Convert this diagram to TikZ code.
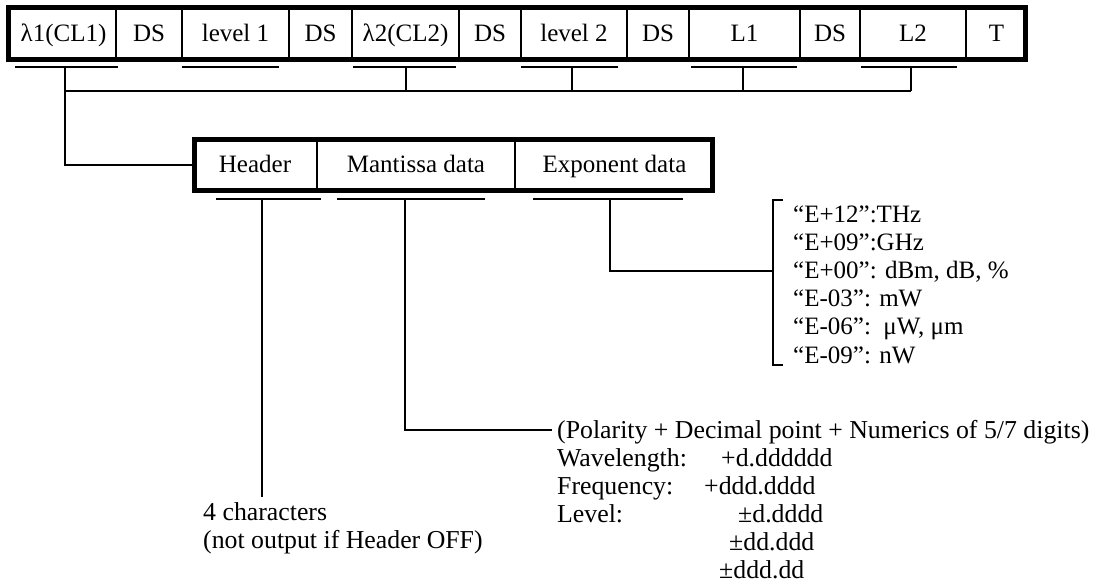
\documentclass[tikz,border=0pt]{standalone}
\usepackage{fontspec}
\setmainfont{Liberation Serif}
\begin{document}
\begin{tikzpicture}[x=1pt,y=-1pt,
  font=\fontsize{25}{28}\selectfont,
  cell/.style={draw, line width=1.1pt, minimum height=55pt, inner sep=0pt, text height=16pt, text depth=0pt},
  hcell/.style={draw, line width=1.1pt, minimum height=54pt, inner sep=0pt, text height=16pt, text depth=0pt},
  frame/.style={line width=5pt},
  ln/.style={line width=1.3pt},
  ul/.style={line width=1.6pt},
  txt/.style={anchor=west, inner sep=0pt, text height=16pt, text depth=0pt},
  note/.style={txt, font=\fontsize{25.8}{28}\selectfont}]
\useasboundingbox (0,0) rectangle (1098,585);
% top record
\node[cell, minimum width=109pt] (c1)  at (61.5,33.5) {\hspace{4pt}λ1(CL1)};
\node[cell, minimum width=66pt]  (c2)  at (149,33.5) {DS};
\node[cell, minimum width=107pt] (c3)  at (235.5,33.5) {level 1};
\node[cell, minimum width=63pt]  (c4)  at (320.5,33.5) {DS};
\node[cell, minimum width=107pt] (c5)  at (405.5,33.5) {λ2(CL2)};
\node[cell, minimum width=62pt]  (c6)  at (490,33.5) {DS};
\node[cell, minimum width=106pt] (c7)  at (574,33.5) {level 2};
\node[cell, minimum width=62pt]  (c8)  at (658,33.5) {DS};
\node[cell, minimum width=111pt] (c9)  at (744.5,33.5) {L1};
\node[cell, minimum width=60pt]  (c10) at (830,33.5) {DS};
\node[cell, minimum width=106pt] (c11) at (913,33.5) {L2};
\node[cell, minimum width=61pt]  (c12) at (996.5,33.5) {T};
\draw[frame] ([xshift=2.5pt,yshift=-2.5pt]c1.north west) rectangle ([xshift=-2.5pt,yshift=2.5pt]c12.south east);
% underlines of top record
\draw[ul] (15,67) -- (118,67);
\draw[ul] (182,67) -- (279,67);
\draw[ul] (353,67) -- (456,67);
\draw[ul] (521,67) -- (618,67);
\draw[ul] (691,67) -- (797,67);
\draw[ul] (861,67) -- (957,67);
\coordinate (u1) at (65,67);
\coordinate (u5) at (406,67);
\coordinate (u7) at (572,67);
\coordinate (u9) at (743,67);
\coordinate (u11) at (911,67);
\coordinate (bus1) at (65,91);
\coordinate (bus2) at (911,91);
\draw[ln] (u5) -- (u5 |- bus1);
\draw[ln] (u7) -- (u7 |- bus1);
\draw[ln] (u9) -- (u9 |- bus1);
\draw[ln] (u11) -- (bus2);
\draw[ln] (bus1) -- (bus2);
% header record
\node[hcell, minimum width=124pt] (h1) at (255,165) {Header};
\node[hcell, minimum width=198pt] (h2) at (416,165) {Mantissa data};
\node[hcell, minimum width=199pt] (h3) at (614.5,165) {Exponent data};
\draw[frame] ([xshift=2.5pt,yshift=-2.5pt]h1.north west) rectangle ([xshift=-2.5pt,yshift=2.5pt]h3.south east);
\draw[ln] (u1) -- (u1 |- h1.west) -- (h1.west);
% underlines of header record
\draw[ul] (216,199) -- (321,199);
\draw[ul] (337,199) -- (485,199);
\draw[ul] (533,199) -- (683,199);
\coordinate (v1) at (262,199);
\coordinate (v2) at (405,199);
\coordinate (v3) at (610,199);
% header note
\node[note] (n1) at (203,512) {4 characters};
\node[note] (n2) at (203,540) {(not output if Header OFF)};
\draw[ln] (v1) -- (262,497);
% mantissa note
\node[note] (m0) at (557,430) {(Polarity + Decimal point + Numerics of 5/7 digits)};
\node[note] (m1) at (557,458) {Wavelength:};
\node[note] (m1v) at (721,458) {+d.dddddd};
\node[note] (m2) at (557,486) {Frequency:};
\node[note] (m2v) at (704,486) {+ddd.dddd};
\node[note] (m3) at (557,514) {Level:};
\node[note] (m3v) at (738,514) {±d.dddd};
\node[note] (m4v) at (729,542) {±dd.ddd};
\node[note] (m5v) at (719,570) {±ddd.dd};
\draw[ln] (v2) -- (v2 |- m0.west) -- ([xshift=-5pt]m0.west);
% exponent note
\node[txt] (e1) at (793,215) {“E+12”:THz};
\node[txt] (e2) at (793,243) {“E+09”:GHz};
\node[txt] (e3) at (793,271) {“E+00”: dBm, dB, \%};
\node[txt] (e4) at (793,299) {“E-03”: mW};
\node[txt] (e5) at (793,327) {“E-06”:\ \ μW, μm};
\node[txt] (e6) at (793,355) {“E-09”: nW};
\coordinate (bt) at (773,200);
\coordinate (bb) at (773,365);
\draw[ln] ([xshift=10pt]bt) -- (bt) -- (bb) -- ([xshift=10pt]bb);
\draw[ln] (v3) -- (v3 |- e3.west) -- (bt |- e3.west);
\end{tikzpicture}
\end{document}
